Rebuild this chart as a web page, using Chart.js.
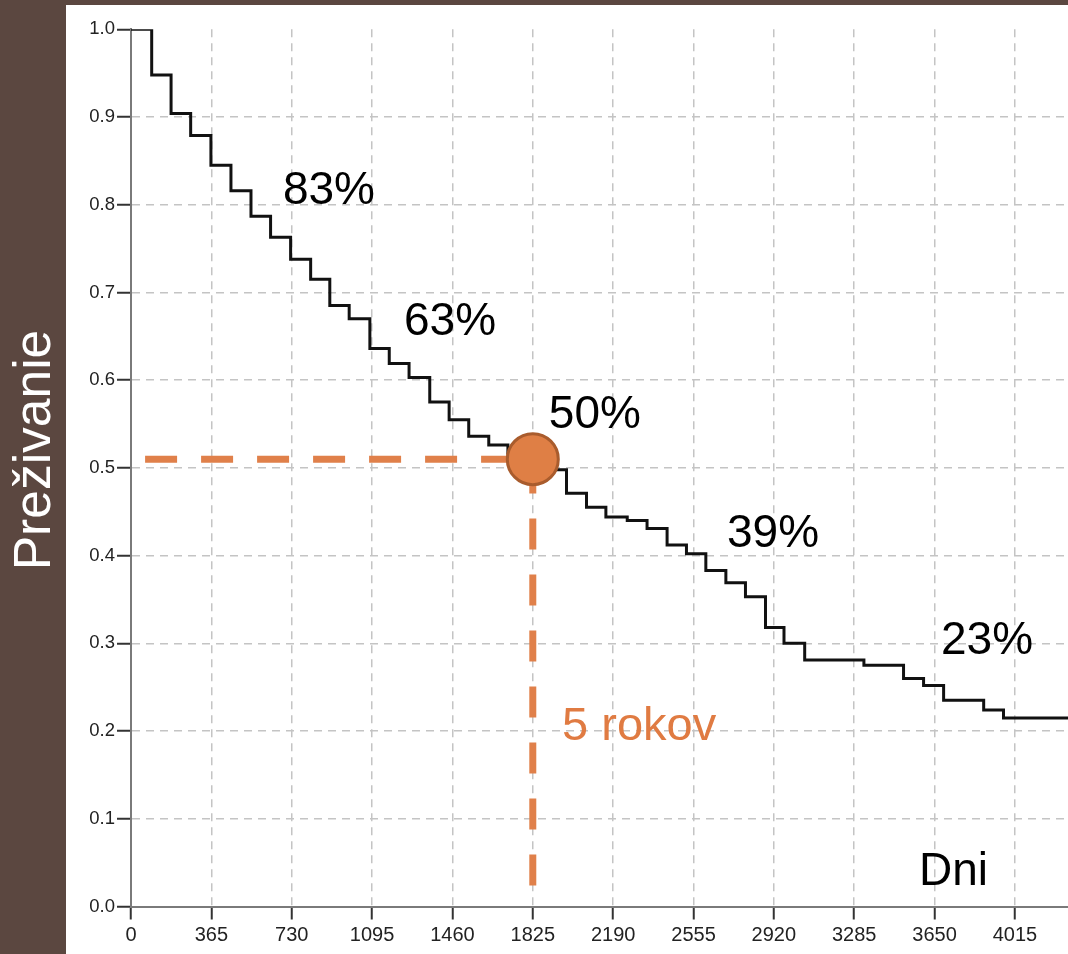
<!DOCTYPE html>
<html>
<head>
<meta charset="utf-8">
<script src="https://cdn.jsdelivr.net/npm/chart.js@4.4.1/dist/chart.umd.min.js"></script>
<style>
html,body{margin:0;padding:0;background:#5b4740;overflow:hidden}
canvas{display:block}
</style>
</head>
<body>
<canvas id="c" width="1068" height="954"></canvas>
<script>
// ---- data ----
const dayTicks = [0, 365, 730, 1095, 1460, 1825, 2190, 2555, 2920, 3285, 3650, 4015];
const survTicks = [0, 0.1, 0.2, 0.3, 0.4, 0.5, 0.6, 0.7, 0.8, 0.9, 1.0];
const kmDays = [0, 94, 182, 271, 363, 454, 545, 634, 725, 816, 903, 991, 1085, 1173, 1263, 1357, 1445, 1534, 1625, 1712, 1802, 1890, 1978, 2069, 2157, 2254, 2344, 2435, 2523, 2611, 2702, 2791, 2882, 2966, 3060, 3329, 3509, 3600, 3691, 3873, 3963, 4256];
const kmSurvival = [1.0, 0.948, 0.904, 0.879, 0.845, 0.816, 0.787, 0.763, 0.738, 0.715, 0.685, 0.670, 0.636, 0.619, 0.603, 0.575, 0.555, 0.536, 0.526, 0.517, 0.508, 0.498, 0.471, 0.455, 0.444, 0.440, 0.431, 0.412, 0.402, 0.383, 0.369, 0.353, 0.318, 0.300, 0.281, 0.275, 0.260, 0.252, 0.235, 0.224, 0.215, 0.215];
const medianDay = 1825;
const medianSurvival = 0.51;
const guideStartDay = 64;
const guideBottomSurvival = 0.024;
const xMax = 4256;
const yTitle = 'Preživanie';

// text annotations (anchor in data units: left edge / baseline)
const annotations = [
  {text: '83%', day: 690, surv: 0.8009, color: '#000000', size: 46},
  {text: '63%', day: 1240, surv: 0.6515, color: '#000000', size: 46},
  {text: '50%', day: 1898, surv: 0.5455, color: '#000000', size: 46},
  {text: '39%', day: 2707, surv: 0.4099, color: '#000000', size: 46},
  {text: '23%', day: 3679, surv: 0.2879, color: '#000000', size: 46},
  {text: '5 rokov', day: 1958, surv: 0.1898, color: '#e07b42', size: 47},
  {text: 'Dni', day: 3579, surv: 0.0245, color: '#000000', size: 46}
];

const FONT = '"Liberation Sans", Arial, Helvetica, sans-serif';
const ORANGE = '#e0804a';

const bgPlugin = {
  id: 'bg',
  beforeDraw(chart) {
    const {ctx, width, height} = chart;
    ctx.save();
    ctx.fillStyle = '#5b4740';
    ctx.fillRect(0, 0, width, height);
    ctx.fillStyle = '#ffffff';
    ctx.fillRect(66, 5, width - 66, height - 5);
    ctx.translate(50, 450);
    ctx.rotate(-Math.PI / 2);
    ctx.fillStyle = '#ffffff';
    ctx.font = '51.5px ' + FONT;
    ctx.textAlign = 'center';
    ctx.textBaseline = 'alphabetic';
    ctx.fillText(yTitle, 0, 0);
    ctx.restore();
  }
};

const labelPlugin = {
  id: 'labels',
  afterDraw(chart) {
    const {ctx, scales} = chart;
    ctx.save();
    ctx.textAlign = 'left';
    ctx.textBaseline = 'alphabetic';
    annotations.forEach(a => {
      ctx.font = a.size + 'px ' + FONT;
      ctx.fillStyle = a.color;
      ctx.fillText(a.text, scales.x.getPixelForValue(a.day), scales.y.getPixelForValue(a.surv));
    });
    ctx.restore();
  }
};

new Chart(document.getElementById('c'), {
  type: 'line',
  data: {
    datasets: [
      {
        label: 'median',
        data: [{x: medianDay, y: medianSurvival}],
        showLine: false,
        pointRadius: 25.5,
        pointHoverRadius: 25.5,
        pointBackgroundColor: '#df7f45',
        pointBorderColor: '#a95c2d',
        pointBorderWidth: 3
      },
      {
        label: 'KM',
        data: kmDays.map((d, i) => ({x: d, y: kmSurvival[i]})),
        stepped: 'before',
        borderColor: '#111111',
        borderWidth: 3,
        pointRadius: 0,
        fill: false,
        borderJoinStyle: 'miter'
      },
      {
        label: 'hguide',
        data: [{x: guideStartDay, y: medianSurvival}, {x: medianDay, y: medianSurvival}],
        borderColor: ORANGE,
        borderWidth: 7,
        borderDash: [32, 24],
        borderCapStyle: 'butt',
        pointRadius: 0
      },
      {
        label: 'vguide',
        data: [{x: medianDay, y: guideBottomSurvival}, {x: medianDay, y: medianSurvival}],
        borderColor: ORANGE,
        borderWidth: 7,
        borderDash: [31, 25],
        borderCapStyle: 'butt',
        pointRadius: 0
      }
    ]
  },
  options: {
    responsive: false,
    animation: false,
    events: [],
    layout: {autoPadding: false, padding: {left: 0, top: 29.3, right: 0, bottom: 0}},
    plugins: {legend: {display: false}, tooltip: {enabled: false}},
    scales: {
      x: {
        type: 'linear',
        min: 0,
        max: xMax,
        afterBuildTicks: s => { s.ticks = dayTicks.map(v => ({value: v})); },
        afterFit: s => { s.height = 47.5; s.paddingLeft = 0; s.paddingRight = 0; },
        ticks: {
          autoSkip: false,
          maxRotation: 0,
          padding: 4,
          color: '#222222',
          font: {family: FONT, size: 20},
          callback: v => String(v)
        },
        grid: {
          color: c => (c.tick && c.tick.value === 0) ? 'rgba(0,0,0,0)' : '#c4c4c4',
          lineWidth: 1.5,
          tickLength: 13,
          tickColor: '#333333',
          tickWidth: 2
        },
        border: {display: true, color: '#7a7a7a', width: 2, dash: [8, 6]}
      },
      y: {
        min: 0,
        max: 1,
        afterBuildTicks: s => { s.ticks = survTicks.map(v => ({value: v})); },
        afterFit: s => { s.width = 131; s.paddingTop = 0; s.paddingBottom = 0; },
        ticks: {
          padding: 2,
          color: '#222222',
          font: {family: FONT, size: 18.5},
          callback: v => Number(v).toFixed(1)
        },
        grid: {
          color: c => (c.tick && (c.tick.value === 0 || c.tick.value === 1)) ? 'rgba(0,0,0,0)' : '#c4c4c4',
          lineWidth: 1.5,
          tickLength: 14,
          tickColor: '#333333',
          tickWidth: 2
        },
        border: {display: true, color: '#7a7a7a', width: 2, dash: [8, 6]}
      }
    }
  },
  plugins: [bgPlugin, labelPlugin]
});
</script>
</body>
</html>
